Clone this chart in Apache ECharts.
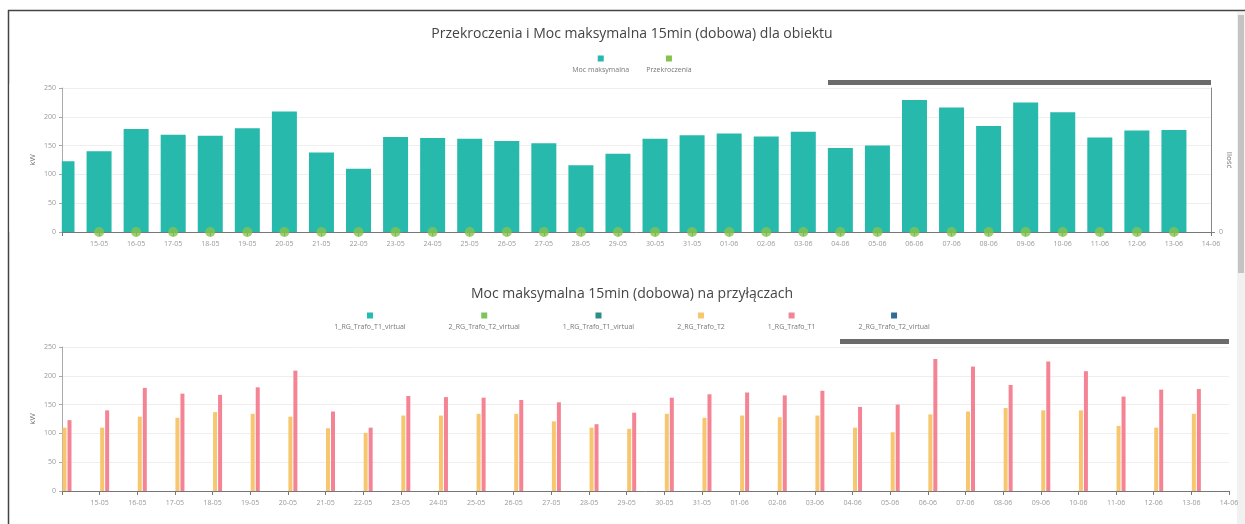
<!DOCTYPE html>
<html><head><meta charset="utf-8">
<script src="https://cdn.jsdelivr.net/npm/echarts@6/dist/echarts.min.js"></script>
<style>html,body{margin:0;padding:0;background:#fff;overflow:hidden}#c{width:1245px;height:524px}</style>
</head><body><div id="c"></div>
<script>
const dates = ['14-05','15-05','16-05','17-05','18-05','19-05','20-05','21-05','22-05','23-05','24-05','25-05','26-05','27-05','28-05','29-05','30-05','31-05','01-06','02-06','03-06','04-06','05-06','06-06','07-06','08-06','09-06','10-06','11-06','12-06','13-06','14-06'];
const mocMaksymalna = [123,140,179,169,167,180,209,138,110,165,163,162,158,154,116,136,162,168,171,166,174,146,150,229,216,184,225,208,164,176,177];
const przekroczenia = [null,0,0,0,0,0,0,0,0,0,0,0,0,0,0,0,0,0,0,0,0,0,0,0,0,0,0,0,0,0,0];
const trafoT1 = [123,140,179,169,167,180,209,138,110,165,163,162,158,154,116,136,162,168,171,166,174,146,150,229,216,184,225,208,164,176,177];
const trafoT2 = [110,110,129,127,137,134,129,109,101,131,131,134,134,121,110,108,134,127,131,128,131,110,102,133,138,144,140,140,113,110,134];
const yTicks = [0,50,100,150,200,250];

const FONT = "'Open Sans', 'Noto Sans', sans-serif";
const colors = {
  moc: '#26b9ac', prz: '#84c44c',
  v1: '#22bcb0', v2: '#7dc45a', v3: '#2b8f89', t2: '#f7c76f', t1: '#f48494', v4: '#2f6d99'
};
const topNames = ['Moc maksymalna','Przekroczenia'];
const botNames = ['1_RG_Trafo_T1_virtual','2_RG_Trafo_T2_virtual','1_RG_Trafo_T1_virtual ','2_RG_Trafo_T2','1_RG_Trafo_T1','2_RG_Trafo_T2_virtual '];
const nameKey = {};
nameKey[topNames[0]]='moc'; nameKey[topNames[1]]='prz';
['v1','v2','v3','t2','t1','v4'].forEach((k,i)=>nameKey[botNames[i]]=k);

const rich = {t:{fontSize:7,color:'#777',align:'center',lineHeight:15,fontFamily:FONT}};
Object.keys(colors).forEach(k=>{rich['s_'+k]={width:6,height:6,backgroundColor:colors[k],align:'center',lineHeight:8};});

function measure(t){const c=document.createElement('canvas').getContext('2d');c.font="7px "+FONT;return c.measureText(t).width;}
function legendLeft(names,gap,center){let w=0;names.forEach(n=>{w+=5+measure(n.trim());});w+=gap*(names.length-1);return center-w/2-2.5;}

function mkLegend(names,gap,top){
  return {data:names,top:top,left:legendLeft(names,gap,632),itemWidth:0,itemHeight:0,itemGap:gap,padding:0,
    formatter:n=>'{s_'+nameKey[n]+'|}\n{t|'+n.trim()+'}',
    textStyle:{fontSize:7,color:'#777',fontFamily:FONT,rich:rich}};
}

const axisLabelX = {fontSize:7,color:'#999',fontFamily:FONT,interval:0,formatter:(v,i)=>i===0?'':v};
function yAxisLeft(g,opts){return Object.assign({gridIndex:g,type:'value',position:'left',min:yTicks[0],max:yTicks[yTicks.length-1],interval:50,
  name:'kW',nameLocation:'middle',nameGap:25,nameMoveOverlap:false,nameTextStyle:{fontSize:8,color:'#777',fontFamily:FONT},
  axisLine:{show:true,lineStyle:{color:'#aaa'}},axisTick:{show:true,length:3,lineStyle:{color:'#aaa'}},
  axisLabel:{fontSize:7,color:'#999',fontFamily:FONT,margin:6},splitLine:{lineStyle:{color:'#eee'}}},opts||{});}

const option = {
  animation:false,
  backgroundColor:'#fff',
  title:[
    {text:'Przekroczenia i Moc maksymalna 15min (dobowa) dla obiektu',left:632,top:27,textAlign:'center',padding:0,
      textStyle:{fontSize:14,fontWeight:'normal',color:'#444',fontFamily:FONT}},
    {text:'Moc maksymalna 15min (dobowa) na przyłączach',left:632,top:287,textAlign:'center',padding:0,
      textStyle:{fontSize:14,fontWeight:'normal',color:'#444',fontFamily:FONT}}
  ],
  legend:[mkLegend(topNames,12,55),mkLegend(botNames,38,312)],
  grid:[{left:62,right:34,top:88,height:144},{left:62,right:16,top:347,height:144}],
  xAxis:[
    {type:'category',gridIndex:0,data:dates,boundaryGap:false,axisLine:{lineStyle:{color:'#777'}},
      axisTick:{length:4,interval:0,lineStyle:{color:'#777'}},axisLabel:axisLabelX,splitLine:{show:false}},
    {type:'category',gridIndex:1,data:dates,boundaryGap:false,axisLine:{lineStyle:{color:'#777'}},
      axisTick:{length:4,interval:0,lineStyle:{color:'#777'}},axisLabel:axisLabelX,splitLine:{show:false}}
  ],
  yAxis:[
    yAxisLeft(0,{name:'',axisTick:{show:false},axisLabel:{show:false}}),
    yAxisLeft(0,{z:10,axisLine:{show:false},splitLine:{show:false}}),
    {gridIndex:0,type:'value',position:'right',min:0,max:1,interval:1,name:'Ilość',nameLocation:'middle',nameRotate:-90,nameGap:14,nameMoveOverlap:false,
      nameTextStyle:{fontSize:8,color:'#777',fontFamily:FONT},
      axisLine:{show:true,lineStyle:{color:'#888'}},axisTick:{show:true,length:4,customValues:[0],lineStyle:{color:'#888'}},
      axisLabel:{fontSize:7,color:'#999',fontFamily:FONT,margin:8,customValues:[0],formatter:v=>v===0?'0':''},splitLine:{show:false}},
    yAxisLeft(1)
  ],
  graphic:[
    {type:'rect',shape:{x:9.5,y:84,width:52.3,height:148},style:{fill:'#fff'},z:5,silent:true},
    {type:'line',shape:{x1:8,y1:10.5,x2:1245,y2:10.5},style:{stroke:'#444',lineWidth:1.5},silent:true},
    {type:'line',shape:{x1:8.5,y1:10,x2:8.5,y2:524},style:{stroke:'#444',lineWidth:1.5},silent:true},
    {type:'rect',shape:{x:1237,y:12,width:8,height:512},style:{fill:'#f1f1f1'},silent:true},
    {type:'rect',shape:{x:1238,y:15,width:6,height:258},style:{fill:'#c4c4c4'},silent:true},
    {type:'rect',shape:{x:828,y:80,width:383,height:5},style:{fill:'#6b6b6b'},silent:true},
    {type:'rect',shape:{x:840,y:339,width:389,height:5},style:{fill:'#6b6b6b'},silent:true}
  ],
  series:[
    {type:'bar',name:topNames[0],xAxisIndex:0,yAxisIndex:0,data:mocMaksymalna,barWidth:25,itemStyle:{color:colors.moc}},
    {type:'scatter',name:topNames[1],xAxisIndex:0,yAxisIndex:2,data:przekroczenia,symbolSize:10,itemStyle:{color:colors.prz},z:5,clip:false},
    {type:'bar',name:botNames[0],xAxisIndex:1,yAxisIndex:3,data:[],barWidth:4,barGap:'25%',itemStyle:{color:colors.v1}},
    {type:'bar',name:botNames[1],xAxisIndex:1,yAxisIndex:3,data:[],barWidth:4,barGap:'25%',itemStyle:{color:colors.v2}},
    {type:'bar',name:botNames[2],xAxisIndex:1,yAxisIndex:3,data:[],barWidth:4,barGap:'25%',itemStyle:{color:colors.v3}},
    {type:'bar',name:botNames[3],xAxisIndex:1,yAxisIndex:3,data:trafoT2,barWidth:4,barGap:'25%',itemStyle:{color:colors.t2}},
    {type:'bar',name:botNames[4],xAxisIndex:1,yAxisIndex:3,data:trafoT1,barWidth:4,barGap:'25%',itemStyle:{color:colors.t1}},
    {type:'bar',name:botNames[5],xAxisIndex:1,yAxisIndex:3,data:[],barWidth:4,barGap:'25%',itemStyle:{color:colors.v4}}
  ]
};
const chart = echarts.init(document.getElementById('c'),null,{renderer:'canvas'});
chart.setOption(option);
</script></body></html>
